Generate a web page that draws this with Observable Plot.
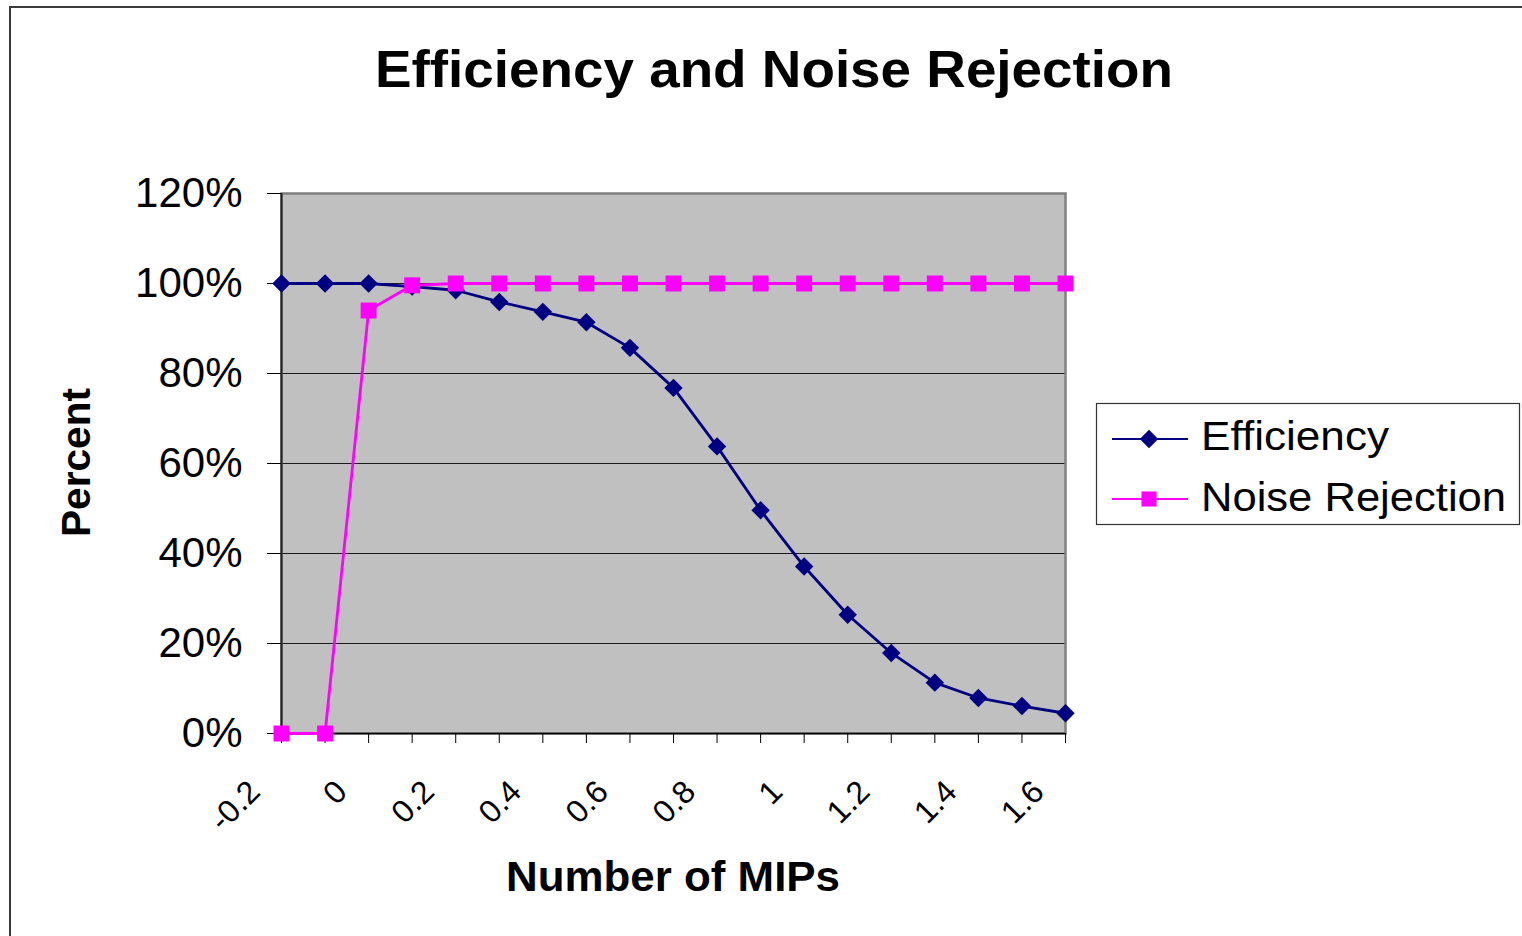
<!DOCTYPE html>
<html>
<head>
<meta charset="utf-8">
<script src="https://cdn.jsdelivr.net/npm/d3@7"></script>
<script src="https://cdn.jsdelivr.net/npm/@observablehq/plot@0.6"></script>
<style>
  html, body { margin: 0; padding: 0; background: #fff; }
  #wrap { position: relative; width: 1522px; height: 936px; overflow: hidden; background: #fff; }
  #wrap > svg { position: absolute; left: 0; top: 0; }
</style>
</head>
<body>
<div id="wrap"></div>
<script>
// ---- data ----
const categories = ["-0.2","-0.1","0","0.1","0.2","0.3","0.4","0.5","0.6","0.7","0.8","0.9","1","1.1","1.2","1.3","1.4","1.5","1.6"];
const tickLabels = ["-0.2","0","0.2","0.4","0.6","0.8","1","1.2","1.4","1.6"];
const efficiency = [100,100,100,99.3,98.5,95.9,93.7,91.4,85.7,76.8,63.8,49.6,37.1,26.4,17.9,11.3,7.9,6.1,4.5];
const noiseRejection = [0,0,94,99.6,100,100,100,100,100,100,100,100,100,100,100,100,100,100,100];
const yTicks = [0,20,40,60,80,100,120];
const gridValues = [20,40,60,80,100];
const seriesNames = ["Efficiency","Noise Rejection"];
const titleText = "Efficiency and Noise Rejection";
const xTitle = "Number of MIPs";
const yTitle = "Percent";

const effRows = categories.map((c, i) => ({x: c, y: efficiency[i]}));
const noiseRows = categories.map((c, i) => ({x: c, y: noiseRejection[i]}));

const FONT = "'Liberation Sans', Arial, Helvetica, sans-serif";
const NAVY = "#000080", MAGENTA = "#FF00FF";

const chart = Plot.plot({
  width: 1522,
  height: 936,
  marginLeft: 281,
  marginRight: 457,
  marginTop: 193,
  marginBottom: 203,
  style: {fontFamily: FONT, fontSize: "41px", background: "transparent", overflow: "visible", color: "black"},
  x: {type: "point", domain: categories, padding: 0, round: false},
  y: {domain: [0, 120]},
  marks: [
    Plot.frame({fill: "#C0C0C0"}),
    Plot.ruleY(gridValues, {stroke: "#1a1a1a", strokeWidth: 1.2}),
    Plot.frame({stroke: "#808080", strokeWidth: 2.5}),
    Plot.ruleX([categories[0]], {stroke: "#222", strokeWidth: 2}),
    Plot.ruleY([0], {stroke: "black", strokeWidth: 1.5}),
    Plot.axisY({ticks: yTicks, tickFormat: d => d + "%", tickSize: 14, tickPadding: 25, fontSize: 42, label: null}),
    Plot.axisX({ticks: categories, tickSize: 10, tickFormat: () => "", label: null}),
    Plot.text(tickLabels, {x: d => d, frameAnchor: "bottom", dx: -27, dy: 53, rotate: -45,
      textAnchor: "end", lineAnchor: "middle", fontSize: 32, fill: "black"}),
    Plot.line(effRows, {x: "x", y: "y", stroke: NAVY, strokeWidth: 2.8}),
    Plot.dot(effRows, {x: "x", y: "y", symbol: "diamond2", r: 8.3, fill: NAVY, stroke: "none"}),
    Plot.line(noiseRows, {x: "x", y: "y", stroke: MAGENTA, strokeWidth: 2.8}),
    Plot.dot(noiseRows, {x: "x", y: "y", symbol: "square", r: 9, fill: MAGENTA, stroke: "none"})
  ]
});

const wrap = document.getElementById("wrap");
wrap.appendChild(chart);

// ---- overlay: border, titles, legend ----
const ov = d3.create("svg")
  .attr("width", 1522).attr("height", 936)
  .style("pointer-events", "none")
  .style("font-family", FONT);

// outer chart border (top + left)
ov.append("path").attr("d", "M10,936 L10,7 L1522,7").attr("fill", "none")
  .attr("stroke", "#3a3a3a").attr("stroke-width", 2);

// title
ov.append("text").attr("x", 375).attr("y", 87).attr("font-size", 52).attr("font-weight", "bold")
  .attr("textLength", 798).attr("lengthAdjust", "spacingAndGlyphs").text(titleText);

// x axis title
ov.append("text").attr("x", 506).attr("y", 891).attr("font-size", 42).attr("font-weight", "bold")
  .attr("textLength", 334).attr("lengthAdjust", "spacingAndGlyphs").text(xTitle);

// y axis title
ov.append("text").attr("transform", "translate(90,537) rotate(-90)").attr("font-size", 41)
  .attr("font-weight", "bold").attr("textLength", 149).attr("lengthAdjust", "spacingAndGlyphs").text(yTitle);

// legend box
ov.append("rect").attr("x", 1096.5).attr("y", 403.5).attr("width", 423).attr("height", 121)
  .attr("fill", "white").attr("stroke", "#333").attr("stroke-width", 1.2);

const rows = [
  {name: seriesNames[0], color: NAVY, sym: d3.symbolDiamond2, size: Math.PI * 8.3 * 8.3, cy: 439, base: 450, len: 188},
  {name: seriesNames[1], color: MAGENTA, sym: d3.symbolSquare, size: Math.PI * 8.5 * 8.5, cy: 499, base: 511, len: 305}
];
for (const r of rows) {
  ov.append("line").attr("x1", 1112).attr("x2", 1188).attr("y1", r.cy).attr("y2", r.cy)
    .attr("stroke", r.color).attr("stroke-width", 2.2);
  ov.append("path").attr("d", d3.symbol(r.sym, r.size)()).attr("transform", `translate(1149,${r.cy})`)
    .attr("fill", r.color);
  ov.append("text").attr("x", 1201).attr("y", r.base).attr("font-size", 40)
    .attr("textLength", r.len).attr("lengthAdjust", "spacingAndGlyphs").text(r.name);
}

wrap.appendChild(ov.node());
</script>
</body>
</html>
